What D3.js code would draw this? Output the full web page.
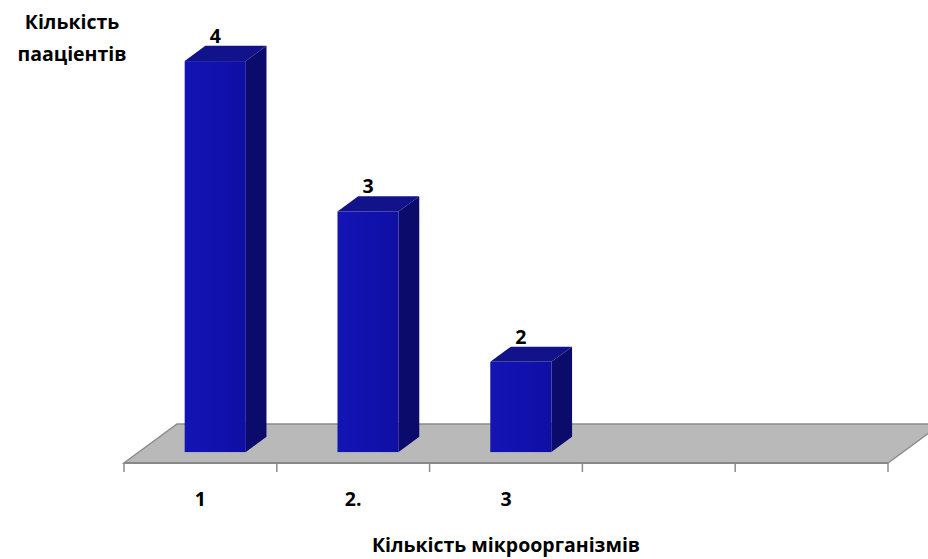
<!DOCTYPE html>
<html>
<head>
<meta charset="utf-8">
<script src="https://cdn.jsdelivr.net/npm/d3@7"></script>
<style>
  html, body { margin: 0; padding: 0; background: #fff; }
  svg { display: block; }
  text { font-family: "Open Sans", "Noto Sans", sans-serif; font-weight: 700; fill: #000; }
</style>
</head>
<body>
<svg id="chart" width="928" height="559"></svg>
<script>
// ---- data ----
const categories = ["1", "2.", "3", "", ""];
const values = [4, 3, 2, null, null];
const valueLabels = ["4", "3", "2"];
const yTitleLines = ["Кількість", "пааціентів"];
const xTitle = "Кількість мікроорганізмів";

// ---- layout ----
const W = 928, H = 559;
const svg = d3.select("#chart");
const FS = 19.5;

const floorFrontY = 463;
const depthDX = 53, depthDY = -39;       // projection of full floor depth
const barD0 = 0.28, barD1 = 0.67;        // bar depth range within floor

const x = d3.scaleBand().domain(d3.range(categories.length)).range([124, 888]).paddingInner(0).paddingOuter(0);
const y = d3.scaleLinear().domain([1.4, 4]).range([floorFrontY, 72]);

const P = (px, py, d) => [px + depthDX * d, py + depthDY * d];

// floor
const x0 = x.range()[0], x1 = x.range()[1];
const floor = [P(x0, floorFrontY, 0), P(x1, floorFrontY, 0), P(x1, floorFrontY, 1), P(x0, floorFrontY, 1)];
svg.append("polygon")
  .attr("points", floor.map(p => p.join(",")).join(" "))
  .attr("fill", "#b9b9b9")
  .attr("stroke", "#8c8c8c")
  .attr("stroke-width", 1.5)
  .attr("stroke-linejoin", "miter");
svg.append("line")
  .attr("x1", x0).attr("x2", x1).attr("y1", floorFrontY).attr("y2", floorFrontY)
  .attr("stroke", "#888").attr("stroke-width", 2);

// ticks
const tickPos = d3.range(categories.length + 1).map(i => x0 + i * x.step());
svg.selectAll("line.tick").data(tickPos).join("line")
  .attr("class", "tick")
  .attr("x1", d => d).attr("x2", d => d)
  .attr("y1", floorFrontY).attr("y2", floorFrontY + 9)
  .attr("stroke", "#8c8c8c").attr("stroke-width", 1.5);

// tick labels
svg.selectAll("text.cat").data(categories).join("text")
  .attr("class", "cat")
  .attr("x", (d, i) => x(i) + x.bandwidth() / 2)
  .attr("y", 506)
  .attr("text-anchor", "middle")
  .attr("font-size", FS)
  .text(d => d);

// gradient for bar front
const defs = svg.append("defs");
const g = defs.append("linearGradient").attr("id", "frontGrad").attr("x1", "0").attr("x2", "1").attr("y1", "0").attr("y2", "0");
g.append("stop").attr("offset", "0").attr("stop-color", "#1414b4");
g.append("stop").attr("offset", "0.5").attr("stop-color", "#1111ae");
g.append("stop").attr("offset", "1").attr("stop-color", "#0f0fa4");

// bars
const barData = values.map((v, i) => ({ v, i })).filter(d => d.v != null);
const bw = x.bandwidth() * 0.4;
const bx = i => x(i) + x.bandwidth() * 0.3;

const bars = svg.selectAll("g.bar").data(barData).join("g").attr("class", "bar");

// side face
bars.append("polygon")
  .attr("points", d => {
    const xr = bx(d.i) + bw;
    return [P(xr, y(d.v), barD0), P(xr, y(d.v), barD1), P(xr, floorFrontY, barD1), P(xr, floorFrontY, barD0)]
      .map(p => p.join(",")).join(" ");
  })
  .attr("fill", "#0b0b6c");

// top face
bars.append("polygon")
  .attr("points", d => {
    const xl = bx(d.i), xr = xl + bw, yt = y(d.v);
    return [P(xl, yt, barD0), P(xr, yt, barD0), P(xr, yt, barD1), P(xl, yt, barD1)]
      .map(p => p.join(",")).join(" ");
  })
  .attr("fill", "#12128a");

// front face
bars.append("rect")
  .attr("x", d => P(bx(d.i), 0, barD0)[0])
  .attr("y", d => P(0, y(d.v), barD0)[1])
  .attr("width", bw)
  .attr("height", d => y.range()[0] - y(d.v))
  .attr("fill", "url(#frontGrad)");

// value labels
bars.append("text")
  .attr("x", d => P(bx(d.i) + bw / 2, 0, barD0)[0])
  .attr("y", d => P(0, y(d.v), barD1)[1] - 3)
  .attr("text-anchor", "middle")
  .attr("font-size", FS)
  .text((d, k) => valueLabels[k]);

// y title
const yt = svg.append("text").attr("text-anchor", "middle").attr("font-size", FS);
yt.selectAll("tspan").data(yTitleLines).join("tspan")
  .attr("x", 72)
  .attr("y", (d, i) => 29 + i * 32)
  .text(d => d);

// x title
svg.append("text")
  .attr("x", (x0 + x1) / 2)
  .attr("y", 552)
  .attr("text-anchor", "middle")
  .attr("font-size", FS)
  .text(xTitle);
</script>
</body>
</html>
